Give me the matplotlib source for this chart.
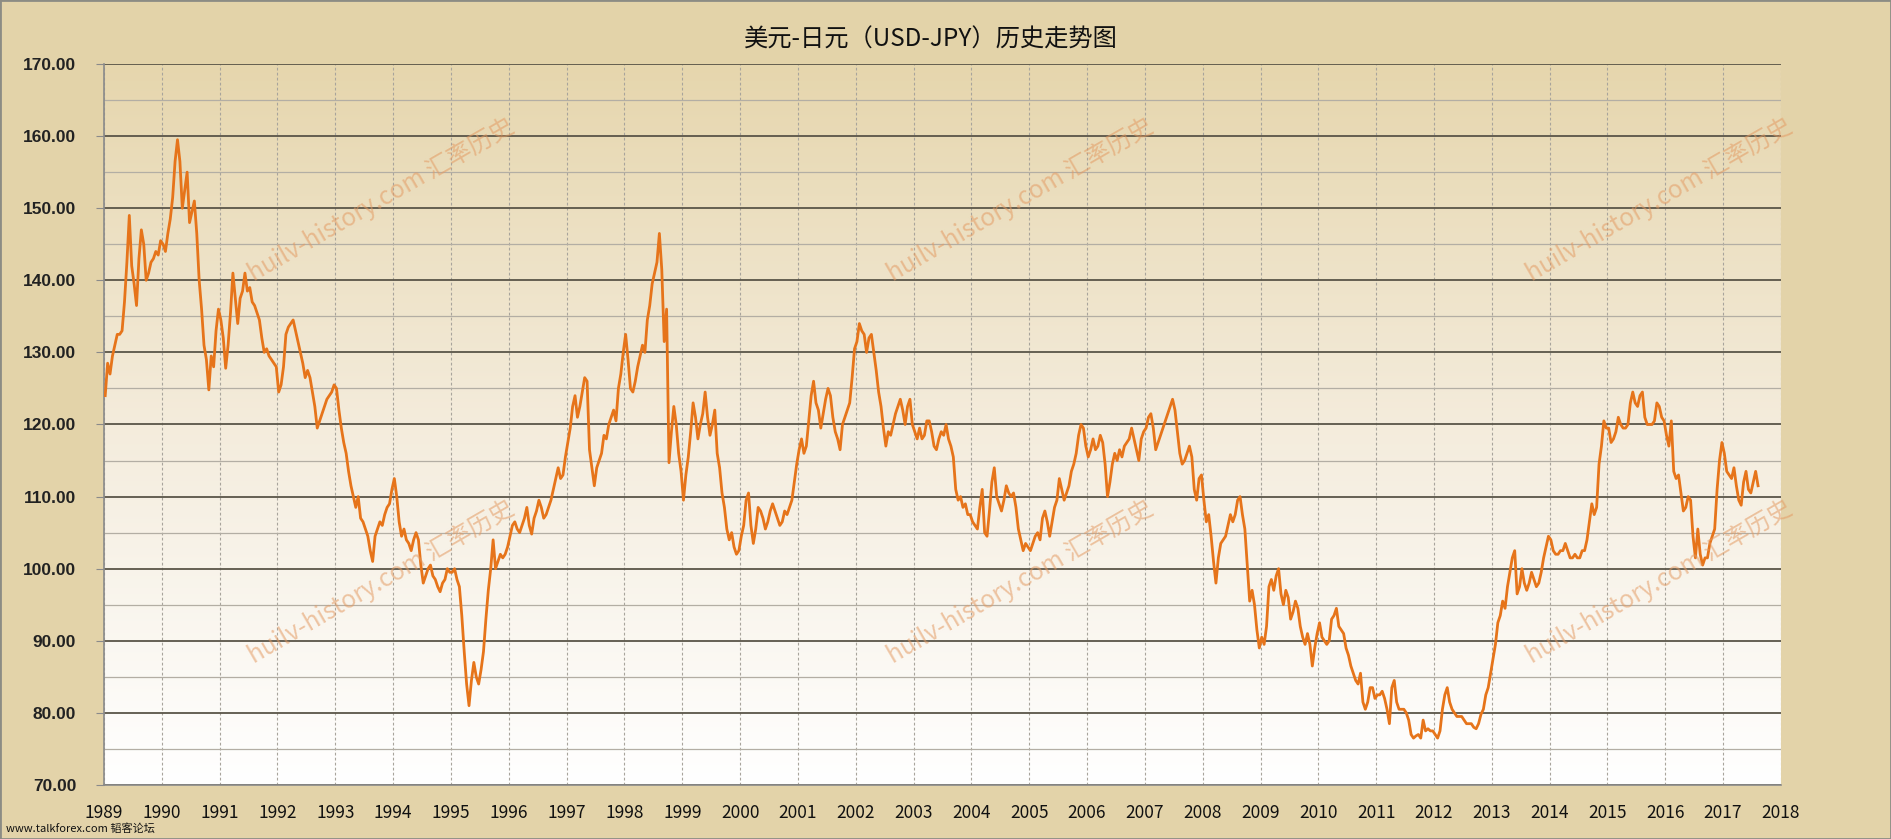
import numpy as np
import matplotlib
matplotlib.use("Agg")
import matplotlib.pyplot as plt
from matplotlib.colors import LinearSegmentedColormap
from matplotlib.patches import Rectangle

plt.rcParams['font.family'] = ['Noto Sans CJK SC', 'DejaVu Sans']

# USD/JPY, two readings per month (first half / second half)
rates_1989_1993 = [
    124.0, 128.5, 127.0, 129.5, 131.0, 132.5, 132.5, 133.0, 137.0, 142.5, 149.0, 142.0,
    139.5, 136.5, 143.0, 147.0, 145.0, 140.0, 141.0, 142.5, 143.0, 144.0, 143.5, 145.5,
    145.0, 144.0, 146.5, 148.5, 151.5, 156.5, 159.5, 156.5, 150.0, 152.5, 155.0, 148.0,
    149.5, 151.0, 146.5, 140.0, 136.0, 131.0, 129.0, 124.8, 129.5, 128.0, 133.0, 136.0,
    134.5, 132.0, 127.8, 131.0, 135.5, 141.0, 137.5, 134.0, 137.5, 138.5, 141.0, 138.5,
    139.0, 137.0, 136.5, 135.5, 134.5, 132.0, 130.0, 130.5, 129.5, 129.0, 128.5, 128.0,
    124.5, 125.5, 128.0, 132.5, 133.5, 134.0, 134.5, 133.0, 131.5, 130.0, 128.5, 126.5,
    127.5, 126.5, 124.5, 122.5, 119.5, 120.5, 121.5, 122.5, 123.5, 124.0, 124.5, 125.5,
    125.0, 122.0, 119.5, 117.5, 116.0, 113.5, 111.5, 110.0, 108.5, 110.0, 107.0, 106.5,
    105.5, 104.5, 102.5, 101.0, 104.5, 105.5, 106.5, 106.0, 107.5, 108.5, 109.0, 111.0,
]
rates_1994_1998 = [
    112.5, 110.0, 106.5, 104.5, 105.5, 104.0, 103.5, 102.5, 104.0, 105.0, 104.0, 100.5,
    98.0, 99.0, 100.0, 100.5, 99.0, 98.5, 97.5, 96.8, 98.0, 98.5, 100.0, 99.5,
    99.5, 100.0, 98.5, 97.5, 93.5, 88.5, 84.0, 81.0, 84.5, 87.0, 85.0, 84.0,
    86.0, 88.5, 93.0, 97.0, 100.0, 104.0, 100.0, 101.0, 102.0, 101.5, 102.0, 103.0,
    104.5, 106.0, 106.5, 105.5, 105.0, 106.0, 107.0, 108.5, 106.0, 104.8, 107.0, 108.0,
    109.5, 108.5, 107.0, 107.5, 108.5, 109.5, 111.0, 112.5, 114.0, 112.5, 113.0, 115.5,
    117.5, 119.5, 122.5, 124.0, 121.0, 122.5, 124.5, 126.5, 126.0, 116.5, 114.0, 111.5,
    114.0, 115.0, 116.0, 118.5, 118.0, 120.0, 121.0, 122.0, 120.5, 125.0, 127.0, 130.0,
    132.5, 129.0, 125.0, 124.5, 126.0, 128.0, 129.5, 131.0, 130.0, 134.5, 136.5, 139.5,
    141.0, 142.5, 146.5, 141.5, 131.5, 136.0, 114.7, 119.0, 122.5, 120.0, 116.0, 113.5,
]
rates_1999_2003 = [
    109.5, 113.0, 115.5, 119.0, 123.0, 121.0, 118.0, 120.0, 121.5, 124.5, 121.0, 118.5,
    120.0, 122.0, 116.0, 114.0, 110.5, 108.5, 105.5, 104.0, 105.0, 103.0, 102.0, 102.5,
    104.5, 106.0, 109.5, 110.5, 106.0, 103.5, 105.5, 108.5, 108.0, 107.0, 105.5, 106.5,
    108.0, 109.0, 108.0, 107.0, 106.0, 106.5, 108.0, 107.5, 108.5, 109.5, 112.0, 114.5,
    116.5, 118.0, 116.0, 117.0, 120.5, 124.0, 126.0, 123.0, 122.0, 119.5, 121.5, 123.5,
    125.0, 124.0, 121.0, 119.0, 118.0, 116.5, 120.0, 121.0, 122.0, 123.0, 126.5, 130.5,
    131.5, 134.0, 133.0, 132.5, 130.0, 132.0, 132.5, 130.0, 127.5, 124.5, 122.5, 119.5,
    117.0, 119.0, 118.5, 120.0, 121.5, 122.5, 123.5, 122.0, 120.0, 122.5, 123.5, 120.0,
    119.0, 118.0, 119.5, 118.0, 118.5, 120.5, 120.5, 119.0, 117.0, 116.5, 118.0, 119.0,
    118.5, 120.0, 118.0, 117.0, 115.5, 111.0, 109.5, 110.0, 108.5, 109.0, 107.5, 107.5,
]
rates_2004_2008 = [
    106.5, 106.0, 105.5, 108.5, 111.0, 105.0, 104.5, 108.0, 112.0, 114.0, 110.0, 109.0,
    108.0, 109.5, 111.5, 110.5, 110.0, 110.5, 108.5, 105.5, 104.0, 102.5, 103.5, 103.0,
    102.5, 103.5, 104.5, 105.0, 104.0, 107.0, 108.0, 106.5, 104.5, 106.5, 108.5, 109.5,
    112.5, 111.0, 109.5, 110.5, 111.5, 113.5, 114.5, 116.0, 118.5, 120.0, 119.5, 117.0,
    115.5, 116.5, 118.0, 116.5, 117.0, 118.5, 117.5, 114.5, 110.0, 112.0, 114.5, 116.0,
    115.0, 116.5, 115.5, 117.0, 117.5, 118.0, 119.5, 118.0, 116.5, 115.0, 118.0, 119.0,
    119.5, 121.0, 121.5, 119.5, 116.5, 117.5, 118.5, 119.5, 120.5, 121.5, 122.5, 123.5,
    122.0, 119.0, 116.0, 114.5, 115.0, 116.0, 117.0, 115.5, 111.0, 109.5, 112.5, 113.0,
    109.5, 106.5, 107.5, 104.5, 101.0, 98.0, 101.5, 103.5, 104.0, 104.5, 106.0, 107.5,
    106.5, 107.5, 109.5, 110.0, 107.5, 105.5, 100.5, 95.5, 97.0, 95.0, 91.5, 89.0,
]
rates_2009_2013 = [
    90.5, 89.5, 92.0, 97.5, 98.5, 97.0, 99.0, 100.0, 96.5, 95.0, 97.0, 96.0,
    93.0, 94.0, 95.5, 94.5, 92.0, 90.5, 89.5, 91.0, 89.5, 86.5, 89.0, 91.0,
    92.5, 90.5, 90.0, 89.5, 90.0, 93.0, 93.5, 94.5, 92.0, 91.5, 91.0, 89.0,
    88.0, 86.5, 85.5, 84.5, 84.0, 85.5, 81.5, 80.5, 81.5, 83.5, 83.5, 82.0,
    82.5, 82.5, 83.0, 82.0, 80.5, 78.5, 83.5, 84.5, 81.5, 80.5, 80.5, 80.5,
    80.0, 79.0, 77.0, 76.5, 76.8, 77.0, 76.5, 79.0, 77.5, 77.8, 77.5, 77.5,
    77.0, 76.5, 77.5, 80.5, 82.5, 83.5, 81.5, 80.5, 80.0, 79.5, 79.5, 79.5,
    79.0, 78.5, 78.5, 78.5, 78.0, 77.8, 78.5, 79.8, 80.5, 82.5, 83.5, 85.5,
    87.5, 89.5, 92.5, 93.5, 95.5, 94.5, 97.5, 99.5, 101.5, 102.5, 96.5, 97.5,
    100.0, 98.0, 97.0, 98.0, 99.5, 98.5, 97.5, 98.0, 99.5, 101.5, 103.0, 104.5,
]
rates_2014_2017 = [
    104.0, 102.5, 102.0, 102.0, 102.5, 102.5, 103.5, 102.5, 101.5, 101.5, 102.0, 101.5,
    101.5, 102.5, 102.5, 104.0, 106.5, 109.0, 107.5, 108.5, 114.5, 117.0, 120.5, 119.5,
    119.5, 117.5, 118.0, 119.0, 121.0, 120.0, 119.5, 119.5, 120.0, 123.0, 124.5, 123.0,
    122.5, 124.0, 124.5, 121.0, 120.0, 120.0, 120.0, 120.5, 123.0, 122.5, 121.0, 120.5,
    118.5, 117.0, 120.5, 113.5, 112.5, 113.0, 110.5, 108.0, 108.5, 110.0, 109.5, 104.5,
    101.5, 105.5, 102.0, 100.5, 101.5, 101.5, 103.5, 104.5, 105.5, 111.0, 115.0, 117.5,
    116.0, 113.5, 113.0, 112.5, 114.0, 111.5, 109.5, 108.8, 112.0, 113.5, 111.0, 110.5,
    112.0, 113.5, 111.5,
]

start_year = 1989
years = list(range(1989, 2019))
yticks = [70, 80, 90, 100, 110, 120, 130, 140, 150, 160, 170]

title = "美元-日元（USD-JPY）历史走势图"
watermark = "huilv-history.com 汇率历史"
footer = "www.talkforex.com 韬客论坛"

rates = np.array(rates_1989_1993 + rates_1994_1998 + rates_1999_2003
                 + rates_2004_2008 + rates_2009_2013 + rates_2014_2017)
t = start_year + (np.arange(len(rates)) + 0.5) / 24.0

fig = plt.figure(figsize=(18.91, 8.39), dpi=100, facecolor="#E3D3A9")
ax = fig.add_axes([0.055, 0.0644, 0.8868, 0.8593])

# background gradient of the plot area
grad = np.linspace(0, 1, 256).reshape(-1, 1)
cmap = LinearSegmentedColormap.from_list("bg", ["#FFFFFF", "#F4ECDC", "#E6D6AD"])
ax.imshow(grad, extent=[1989, 2018, 70, 170], origin="lower", aspect="auto",
          cmap=cmap, zorder=0)

ax.plot(t, rates, color="#E6741A", lw=2.0, zorder=3)

ax.set_xlim(1989, 2018)
ax.set_ylim(70, 170)
ax.set_xticks(years)
ax.set_xticklabels([str(y) for y in years], fontsize=12.5, color="#111111")
ax.set_yticks(yticks)
ax.set_yticklabels([f"{v:.2f}" for v in yticks], fontsize=12.5, fontweight="bold",
                   family=["Liberation Sans", "DejaVu Sans"], color="#222222")
ax.set_yticks(np.arange(75, 170, 10), minor=True)
ax.tick_params(axis="x", length=0, pad=14)
ax.tick_params(axis="y", which="major", length=6, color="#8a8a8a", pad=14)
ax.tick_params(axis="y", which="minor", length=0)

ax.grid(axis="y", which="major", color="#5a5548", lw=1.3, zorder=1)
ax.grid(axis="y", which="minor", color="#b3aea4", lw=0.9, zorder=1)
ax.grid(axis="x", which="major", color="#a8a49c", lw=0.8, ls=(0, (2.5, 2)), zorder=1)

for side in ("top", "right"):
    ax.spines[side].set_visible(False)
for side in ("left", "bottom"):
    ax.spines[side].set_color("#8a8a8a")
    ax.spines[side].set_linewidth(1.2)

# watermarks
for wx in (381, 1020, 1659):
    for wy in (200, 582):
        fig.text(wx / 1891, 1 - wy / 839, watermark, rotation=30, fontsize=17.5,
                 color="#E39A62", alpha=0.55, ha="center", va="center",
                 rotation_mode="anchor", zorder=2)

fig.text(0.4925, 1 - 40 / 839, title, fontsize=17.5, ha="center", va="center",
         color="#111111")
fig.text(6 / 1891, 1 - 829 / 839, footer, fontsize=8, ha="left", va="center",
         color="#111111")

fig.patches.append(Rectangle((0, 0), 1, 1, transform=fig.transFigure, fill=False,
                             edgecolor="#8c8c84", lw=2, zorder=10))

fig.savefig("out.png", dpi=100, facecolor=fig.get_facecolor())
